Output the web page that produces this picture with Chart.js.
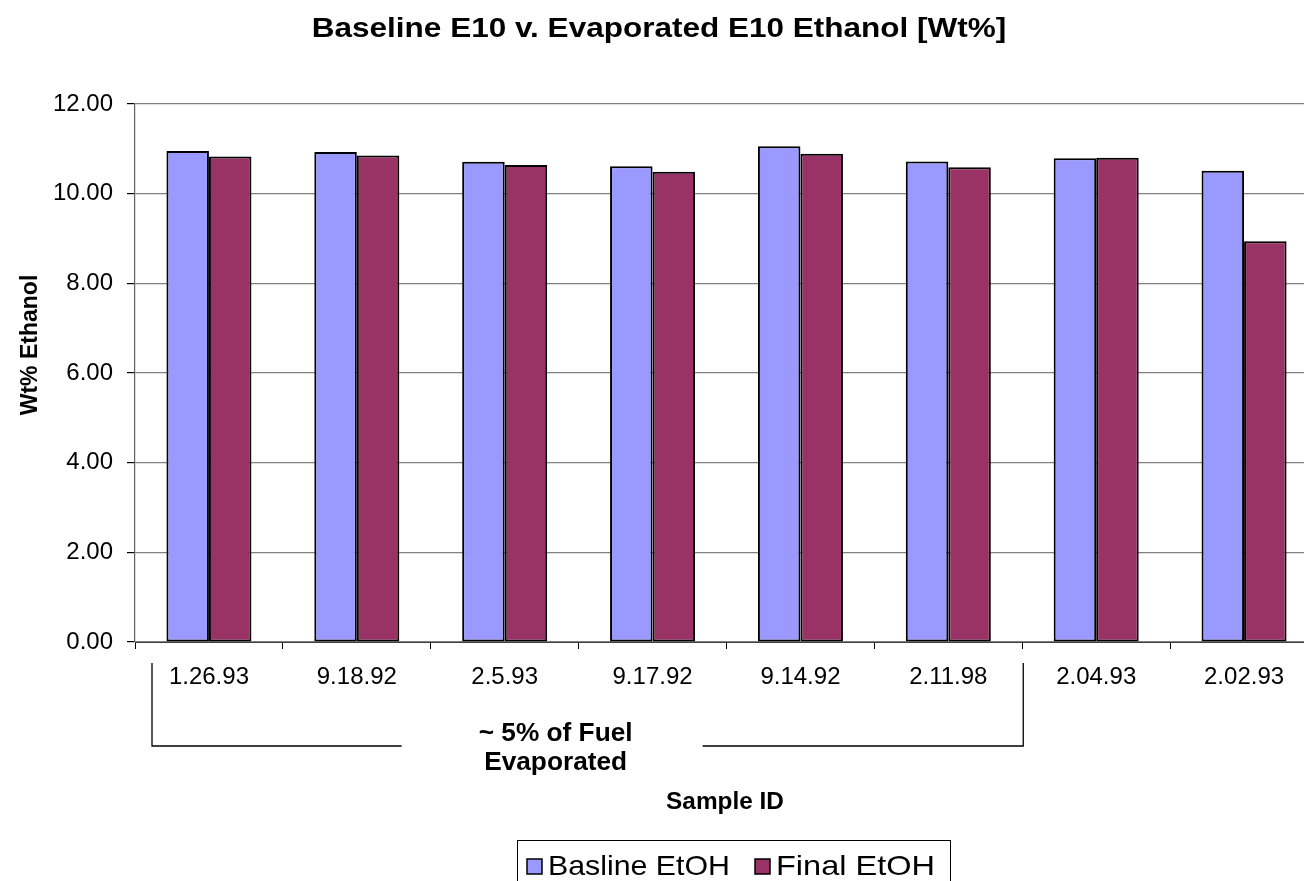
<!DOCTYPE html>
<html>
<head>
<meta charset="utf-8">
<title>Baseline E10 v. Evaporated E10 Ethanol</title>
<script src="https://cdn.jsdelivr.net/npm/chart.js@4/dist/chart.umd.min.js"></script>
<style>
  html, body { margin: 0; padding: 0; background: #fff; overflow: hidden; }
  #wrap { width: 1304px; height: 881px; overflow: hidden; }
  canvas { display: block; }
</style>
</head>
<body>
<div id="wrap"><canvas id="c" width="1320" height="881"></canvas></div>
<script>
// Sample IDs along the x axis
const sampleIds = ['1.26.93', '9.18.92', '2.5.93', '9.17.92', '9.14.92', '2.11.98', '2.04.93', '2.02.93'];
// Ethanol content, weight percent
const baselineEtOH = [10.95, 10.93, 10.71, 10.61, 11.06, 10.72, 10.79, 10.51];
const finalEtOH    = [10.83, 10.85, 10.64, 10.49, 10.89, 10.59, 10.80, 8.94];
// Y axis tick values
const yTicks = [0, 2, 4, 6, 8, 10, 12];
// Bracket under the samples with ~5% of the fuel evaporated (first six)
const bracketFirst = 0, bracketLast = 5;

const FONT = '"Liberation Sans", Arial, Helvetica, sans-serif';

// Draws a single line of text horizontally scaled by sx
function stretchedText(ctx, text, x, y, font, sx, align) {
  ctx.save();
  ctx.font = font;
  ctx.textBaseline = 'alphabetic';
  ctx.textAlign = align || 'center';
  ctx.translate(x, y);
  ctx.scale(sx, 1);
  ctx.fillStyle = '#000';
  ctx.fillText(text, 0, 0);
  ctx.restore();
}

const decorations = {
  id: 'decorations',
  afterDraw(chart) {
    const ctx = chart.ctx;
    const xs = chart.scales.x;
    const area = chart.chartArea;

    // Chart title
    stretchedText(ctx, 'Baseline E10 v. Evaporated E10 Ethanol [Wt%]', 659, 37, 'bold 28px ' + FONT, 1.125);

    // Y axis title
    ctx.save();
    ctx.translate(37, 345);
    ctx.rotate(-Math.PI / 2);
    ctx.font = 'bold 23px ' + FONT;
    ctx.textAlign = 'center';
    ctx.textBaseline = 'alphabetic';
    ctx.fillStyle = '#000';
    ctx.fillText('Wt% Ethanol', 0, 0);
    ctx.restore();

    // X axis title
    stretchedText(ctx, 'Sample ID', 725, 809, 'bold 23px ' + FONT, 1.06);

    // Bracket grouping the evaporated samples
    const half = (xs.getPixelForValue(1) - xs.getPixelForValue(0)) / 2;
    const bx1 = xs.getPixelForValue(bracketFirst) - half + 17;
    const bx2 = xs.getPixelForValue(bracketLast) + half + 1;
    const top = area.bottom + 21, low = area.bottom + 104;
    const mid = (bx1 + bx2) / 2 - 32;
    ctx.save();
    ctx.strokeStyle = '#000';
    ctx.lineWidth = 1.3;
    ctx.beginPath();
    ctx.moveTo(bx1, top); ctx.lineTo(bx1, low); ctx.lineTo(mid - 154, low);
    ctx.moveTo(mid + 147, low); ctx.lineTo(bx2, low); ctx.lineTo(bx2, top);
    ctx.stroke();
    ctx.restore();
    stretchedText(ctx, '~ 5% of Fuel', mid, 741, 'bold 25px ' + FONT, 1.05);
    stretchedText(ctx, 'Evaporated', mid, 770, 'bold 25px ' + FONT, 1.05);

    // Legend with border
    ctx.save();
    ctx.strokeStyle = '#000';
    ctx.lineWidth = 1;
    ctx.strokeRect(517.5, 840.5, 433, 50);
    const items = [
      { x: 527, w: 182 },
      { x: 755, w: 159 }
    ];
    chart.data.datasets.forEach((ds, i) => {
      const it = items[i];
      ctx.fillStyle = ds.backgroundColor;
      ctx.fillRect(it.x, 859, 15, 15);
      ctx.strokeStyle = '#000';
      ctx.lineWidth = 1.5;
      ctx.strokeRect(it.x, 859, 15, 15);
      ctx.font = '28px ' + FONT;
      const natural = ctx.measureText(ds.label).width;
      stretchedText(ctx, ds.label, it.x + 21, 875, '28px ' + FONT, it.w / natural, 'left');
    });
    ctx.restore();
  }
};

new Chart(document.getElementById('c'), {
  type: 'bar',
  data: {
    labels: sampleIds,
    datasets: [
      {
        label: 'Basline EtOH',
        data: baselineEtOH,
        backgroundColor: '#9999FF',
        borderColor: '#000',
        borderWidth: 2,
        borderSkipped: false
      },
      {
        label: 'Final EtOH',
        data: finalEtOH,
        backgroundColor: '#993366',
        borderColor: '#000',
        borderWidth: 2,
        borderSkipped: false
      }
    ]
  },
  options: {
    responsive: false,
    animation: false,
    devicePixelRatio: 1,
    layout: { padding: { left: 0, top: 104, right: 2, bottom: 0 } },
    datasets: { bar: { categoryPercentage: 0.575, barPercentage: 1.0 } },
    plugins: {
      legend: { display: false },
      title: { display: false },
      tooltip: { enabled: false }
    },
    scales: {
      x: {
        afterFit(s) { s.height = 239; },
        grid: {
          offset: true,
          drawOnChartArea: false,
          drawTicks: true,
          tickLength: 7,
          tickColor: '#000'
        },
        border: { color: '#404040', width: 1 },
        ticks: {
          font: { family: FONT, size: 24 },
          color: '#000',
          padding: 14,
          maxRotation: 0,
          autoSkip: false
        }
      },
      y: {
        min: 0,
        max: 12,
        afterFit(s) { s.width = 135; },
        afterBuildTicks(s) { s.ticks = yTicks.map(v => ({ value: v })); },
        grid: {
          color: '#808080',
          lineWidth: 1.2,
          drawTicks: true,
          tickLength: 8,
          tickColor: '#000'
        },
        border: { color: '#606060', width: 1.2 },
        ticks: {
          font: { family: FONT, size: 24 },
          color: '#000',
          padding: 14,
          callback: v => Number(v).toFixed(2)
        }
      }
    }
  },
  plugins: [decorations]
});
</script>
</body>
</html>
